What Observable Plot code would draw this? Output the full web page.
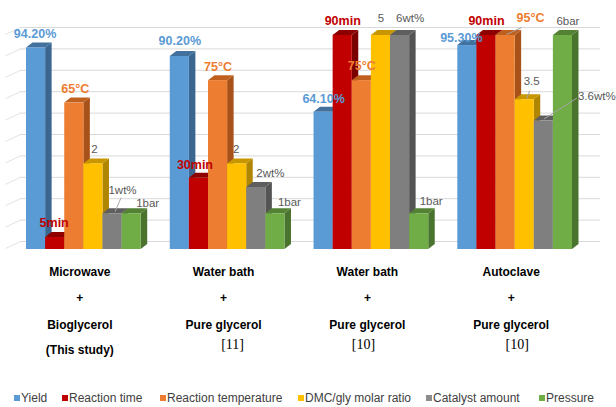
<!DOCTYPE html>
<html><head><meta charset="utf-8">
<script src="https://cdn.jsdelivr.net/npm/d3@7"></script>
<script src="https://cdn.jsdelivr.net/npm/@observablehq/plot@0.6"></script>
<style>
body{margin:0;background:#fff;font-family:"Liberation Sans",Arial,sans-serif;}
#chart{width:616px;height:407px;position:relative;overflow:hidden;background:#fff}
#legend{position:relative;width:616px;height:21px;font-size:12px;color:#404040}
.lg{position:absolute;top:5px;line-height:14px;white-space:nowrap}
.mk{position:absolute;top:9px;width:6px;height:6px}
</style></head><body><div id="chart"></div><script>
// ---- data ----
const groups = ["Microwave", "Water bath", "Water bath", "Autoclave"];
const groupSub = ["Bioglycerol", "Pure glycerol", "Pure glycerol", "Pure glycerol"];
const groupNote = ["(This study)", "", "", ""];
const groupRefs = ["", "[11]", "[10]", "[10]"];
const series = ["Yield", "Reaction time", "Reaction temperature", "DMC/gly molar ratio", "Catalyst amount", "Pressure"];
// bar heights (% of each series' full height)
const yieldH    = [94.2, 90.2, 64.1, 95.3];
const timeH     = [5.6, 33.3, 100, 100];
const tempH     = [68.4, 78.9, 78.9, 100];
const ratioH    = [40, 40, 100, 70];
const catalystH = [16.7, 29, 100, 60];
const pressureH = [16.7, 16.7, 16.7, 100];
// value labels
const yieldLabels    = ["94.20%", "90.20%", "64.10%", "95.30%"];
const timeLabels     = ["5min", "30min", "90min", "90min"];
const tempLabels     = ["65°C", "75°C", "75°C", "95°C"];
const ratioLabels    = ["2", "2", "5", "3.5"];
const catalystLabels = ["1wt%", "2wt%", "6wt%", "3.6wt%"];
const pressureLabels = ["1bar", "1bar", "1bar", "6bar"];
const gridTicks = [0, 10, 20, 30, 40, 50, 60, 70, 80, 90, 100];

// ---- styles ----
const heights = [yieldH, timeH, tempH, ratioH, catalystH, pressureH];
const labels = [yieldLabels, timeLabels, tempLabels, ratioLabels, catalystLabels, pressureLabels];
const frontC = ["#5B9BD5", "#C00000", "#ED7D31", "#FFC000", "#7F7F7F", "#70AD47"];
const topC   = ["#41719C", "#8E0000", "#C0601F", "#C79600", "#5E5E5E", "#548235"];
const sideC  = ["#3A6690", "#7A0000", "#A85219", "#B08500", "#545454", "#4A732E"];
const legendC = ["#5B9BD5", "#C00000", "#ED7D31", "#FFC000", "#8C8C8C", "#70AD47"];
const labelC = ["#5B9BD5", "#C00000", "#ED7D31", "#595959", "#595959", "#595959"];
const labelBold = [true, true, true, false, false, false];
// label nudges in px [dx, dy] from bar top centre, per series then group
const nudge = [
  [[-1,-14],[0,-15],[0,-13],[-6,-8]],
  [[-1,-15],[-4,-13],[0,-15],[0,-15]],
  [[1,-14],[0,-14],[0,-15],[25,-18]],
  [[1,-15],[-1,-15],[0,-17],[7,-18]],
  [[10,-23],[14,-14],[10,-17],[53,-25]],
  [[16,-10],[14,-11],[12,-12],[5,-14]]
];
// leader lines in px [x1,y1,x2,y2] from bar top centre
const leaders = [
  {s: 4, g: 0, p: [2.5, -2, 8.5, -16]},
  {s: 2, g: 3, p: [1, -1, 16, -8]},
  {s: 3, g: 3, p: [2, -1, 5, -9]},
  {s: 4, g: 3, p: [0, -2, 33, -23]}
];
const legendX = [14, 62, 160, 298, 426, 539];
const labelDy = [23, 49, 76, 101];
const refNudge = [0, 5, -8, 2];

const GAP = 1.52, STEP = 6 + GAP, XMAX = 3 * STEP + 6;
const W = 616, H = 386, ML = 20, MR = 16, MT = 35, MB = 137, IL = 6, IR = 28;
const pxX = (W - ML - MR - IL - IR) / XMAX, pxY = (H - MT - MB) / 100;
const DX = 6.5 / pxX, DY = 5 / pxY;

const bars = [];
heights.forEach((arr, s) => arr.forEach((h, g) => {
  const x1 = g * STEP + s;
  bars.push({s, g, h, x1, x2: x1 + 1, xc: x1 + 0.5, id: s + "-" + g,
    label: labels[s][g], fc: frontC[s], tc: topC[s], sc: sideC[s], lc: labelC[s], bold: labelBold[s]});
}));
const sideFaces = bars.flatMap(b => [
  {id: b.id, x: b.x2, y1: 0, y2: b.h, c: b.sc},
  {id: b.id, x: b.x2 + DX, y1: DY, y2: b.h + DY, c: b.sc}
]);
const topFaces = bars.flatMap(b => [
  {id: b.id, x: b.x1, y1: b.h, y2: b.h, c: b.tc},
  {id: b.id, x: b.x1 + DX, y1: b.h, y2: b.h + DY, c: b.tc},
  {id: b.id, x: b.x2, y1: b.h, y2: b.h + DY, c: b.tc},
  {id: b.id, x: b.x2 + DX, y1: b.h + DY, y2: b.h + DY, c: b.tc}
]);
const labelData = bars.map(b => {
  const [dx, dy] = nudge[b.s][b.g];
  return {...b, lx: b.xc + dx / pxX, ly: b.h - dy / pxY};
});
const leaderData = leaders.map(l => {
  const b = bars.find(d => d.s === l.s && d.g === l.g);
  return {x1: b.xc + l.p[0] / pxX, y1: b.h - l.p[1] / pxY, x2: b.xc + l.p[2] / pxX, y2: b.h - l.p[3] / pxY};
});
const groupData = groups.map((name, g) => ({g, xc: g * STEP + 3 - 4 / pxX, name, sub: groupSub[g], note: groupNote[g],
  ref: groupRefs[g], rx: g * STEP + 3 + refNudge[g] / pxX}));

const font = '"Liberation Sans", Arial, sans-serif';
const chart = Plot.plot({
  width: W, height: H,
  marginLeft: ML, marginRight: MR, marginTop: MT, marginBottom: MB,
  x: {domain: [0, XMAX], insetLeft: IL, insetRight: IR, axis: null},
  y: {domain: [0, 100], axis: null},
  color: {type: "identity"},
  style: {fontFamily: font, background: "white", overflow: "visible"},
  marks: [
    Plot.gridY(gridTicks, {dy: -8, stroke: "#D9D9D9", strokeOpacity: 1, strokeWidth: 1}),
    Plot.link(gridTicks, {x1: -IL / pxX - 15 / pxX, y1: d => d - 7 / pxY, x2: -IL / pxX, y2: d => d,
      dy: -8, stroke: "#E3E3E3", strokeWidth: 1}),
    Plot.areaY(sideFaces, {x: "x", y1: "y1", y2: "y2", z: "id", fill: "c"}),
    Plot.areaY(topFaces, {x: "x", y1: "y1", y2: "y2", z: "id", fill: "c"}),
    Plot.rect(bars, {x1: "x1", x2: "x2", y1: () => 0, y2: "h", fill: "fc"}),
    Plot.link(leaderData, {x1: "x1", y1: "y1", x2: "x2", y2: "y2", stroke: "#A6A6A6", strokeWidth: 1}),
    Plot.text(labelData.filter(d => d.bold), {x: "lx", y: "ly", text: "label", fill: "lc",
      fontWeight: "bold", fontSize: 12.5, fontFamily: font}),
    Plot.text(labelData.filter(d => !d.bold), {x: "lx", y: "ly", text: "label", fill: "lc",
      fontSize: 11.5, fontFamily: font}),
    Plot.text(groupData, {x: "xc", y: () => 0, text: "name", dy: labelDy[0], fontWeight: "bold", fontSize: 12, fill: "#000", fontFamily: font}),
    Plot.text(groupData, {x: "xc", y: () => 0, text: () => "+", dy: labelDy[1], fontWeight: "bold", fontSize: 12, fill: "#000", fontFamily: font}),
    Plot.text(groupData, {x: "xc", y: () => 0, text: "sub", dy: labelDy[2], fontWeight: "bold", fontSize: 12, fill: "#000", fontFamily: font}),
    Plot.text(groupData, {x: "xc", y: () => 0, text: "note", dy: labelDy[3], fontWeight: "bold", fontSize: 12, fill: "#000", fontFamily: font}),
    Plot.text(groupData, {x: "rx", y: () => 0, text: "ref", dy: 95, fontSize: 14, fill: "#000",
      fontFamily: '"Liberation Serif", "Times New Roman", serif'})
  ]
});
const root = document.getElementById("chart");
root.appendChild(chart);
const lg = document.createElement("div");
lg.id = "legend";
series.forEach((name, i) => {
  const m = document.createElement("div");
  m.className = "mk"; m.style.left = legendX[i] + "px"; m.style.background = legendC[i];
  const t = document.createElement("div");
  t.className = "lg"; t.style.left = (legendX[i] + 7) + "px"; t.textContent = name;
  lg.appendChild(m); lg.appendChild(t);
});
root.appendChild(lg);
</script></body></html>
